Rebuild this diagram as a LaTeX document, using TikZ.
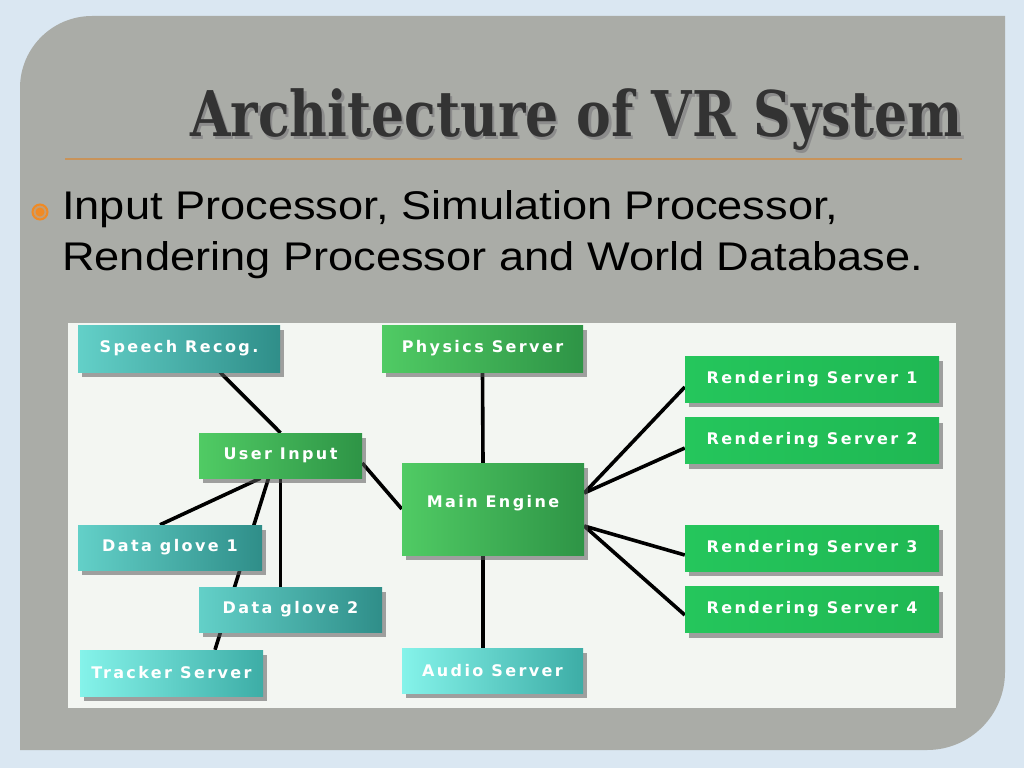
\documentclass[tikz,border=0pt]{standalone}
\usepackage{fontspec}
\usepackage{tikz}
\usetikzlibrary{shadows,backgrounds}

\newfontfamily\titlefont[FakeStretch=0.826]{DejaVu Serif}
\newfontfamily\bodyfont[FakeStretch=1.13]{Liberation Sans}
\newfontfamily\boxfont[LetterSpace=15]{DejaVu Sans}

\definecolor{skyblue}{HTML}{DAE7F2}
\definecolor{panelgray}{HTML}{AAACA7}
\definecolor{diagwhite}{HTML}{F3F6F2}
\definecolor{ruleorange}{HTML}{C8935A}
\definecolor{dotorange}{HTML}{F08A24}
\definecolor{tealA}{HTML}{63D0C8}
\definecolor{tealB}{HTML}{2F8E89}
\definecolor{lteaA}{HTML}{85F3EA}
\definecolor{lteaB}{HTML}{3DADA6}
\definecolor{greenA}{HTML}{50CB64}
\definecolor{greenB}{HTML}{2E9446}
\definecolor{rendA}{HTML}{25C65C}
\definecolor{rendB}{HTML}{1FB853}

\begin{document}
\begin{tikzpicture}[x=1pt, y=-1pt,
  box/.style={rectangle, inner sep=0pt, text=white,
    font={\boxfont\bfseries\fontsize{16}{18}\selectfont},
    drop shadow={shadow xshift=4pt, shadow yshift=-5pt, fill=black!65, opacity=0.55}},
  tealbox/.style={box, left color=tealA, right color=tealB},
  lightbox/.style={box, left color=lteaA, right color=lteaB},
  greenbox/.style={box, left color=greenA, right color=greenB},
  rendbox/.style={box, left color=rendA, right color=rendB,
    minimum width=254pt, minimum height=46pt},
  link/.style={draw=black, line width=3.6pt}]

\useasboundingbox (0,0) rectangle (1024,768);

% boxes of the diagram
\node[tealbox, minimum width=202pt, minimum height=47pt] (speech) at (179,348.5) {Speech Recog.};
\node[greenbox, minimum width=201pt, minimum height=47pt] (physics) at (482.5,348.5) {Physics Server};
\node[greenbox, minimum width=163pt, minimum height=45pt] (userin) at (280.5,455.5) {User Input};
\node[greenbox, minimum width=182pt, minimum height=92pt, text depth=15pt] (engine) at (493,509) {Main Engine};
\node[tealbox, minimum width=184pt, minimum height=45pt] (glove1) at (170,547.5) {Data glove 1};
\node[tealbox, minimum width=183pt, minimum height=45pt] (glove2) at (290.5,609.5) {Data glove 2};
\node[lightbox, minimum width=183pt, minimum height=46pt] (tracker) at (171.5,673) {Tracker Server};
\node[lightbox, minimum width=181pt, minimum height=45pt] (audio) at (492.5,670.5) {Audio Server};
\node[rendbox] (rend1) at (812,379) {Rendering Server 1};
\node[rendbox] (rend2) at (812,440.5) {Rendering Server 2};
\node[rendbox] (rend3) at (812,548) {Rendering Server 3};
\node[rendbox] (rend4) at (812,609.5) {Rendering Server 4};

% slide panel and picture area
\begin{scope}[on background layer]
  \fill[skyblue] (0,0) rectangle (1024,768);
  \fill[panelgray] (20,750) -- (20,88) .. controls (20,48.2) and (52.2,16) .. (92,16)
    -- (1005,16) -- (1005,672) .. controls (1005,715.1) and (970.1,750) .. (927,750) -- cycle;
  \fill[diagwhite] (68,323) rectangle (956,708);
\end{scope}

% connectors
\begin{scope}[on background layer]
  \path[link] ([xshift=41pt]speech.south) -- (userin.north);
  \path[link] ([yshift=-7.5pt]userin.east) -- (engine.west);
  \path[link] ([xshift=-20pt]userin.south) -- ([xshift=-10pt]glove1.north);
  \path[link] ([xshift=-12pt]userin.south) -- ([xshift=43.5pt]tracker.north);
  \path[link] (userin.south) -- ([xshift=-10pt]glove2.north);
  \path[link] (physics.south) -- ([xshift=-10pt]engine.north);
  \path[link] ([xshift=-10pt]engine.south) -- ([xshift=-9.5pt]audio.north);
  \path[link] ([yshift=16pt]engine.east) -- ([yshift=-8pt]rend1.west);
  \path[link] ([yshift=16pt]engine.east) -- ([yshift=-7.5pt]rend2.west);
  \path[link] ([yshift=-17pt]engine.east) -- ([yshift=-7pt]rend3.west);
  \path[link] ([yshift=-17pt]engine.east) -- ([yshift=-5.5pt]rend4.west);
\end{scope}

% title and text
\node[anchor=base west, inner sep=0pt, text=black!45, font={\titlefont\bfseries\fontsize{63}{70}\selectfont}] (titleshade) at (192.5,139) {Architecture of VR System};
\node[anchor=base west, inner sep=0pt, text=black!80, font={\titlefont\bfseries\fontsize{63}{70}\selectfont}] (title) at (190,136.7) {Architecture of VR System};
\draw[ruleorange, line width=1.6pt] (65,159) -- (962,159);

\node[circle, draw=dotorange, line width=2pt, fill=dotorange!40!panelgray, minimum size=15pt, inner sep=0pt] (bullet) at (40,212) {};
\fill[dotorange] (bullet.center) circle (4.5pt);
\node[anchor=base west, inner sep=0pt, align=left, font={\bodyfont\fontsize{40}{51}\selectfont}] (points) at (62,270.3)
  {Input Processor, Simulation Processor,\\Rendering Processor and World Database.};
\end{tikzpicture}
\end{document}
